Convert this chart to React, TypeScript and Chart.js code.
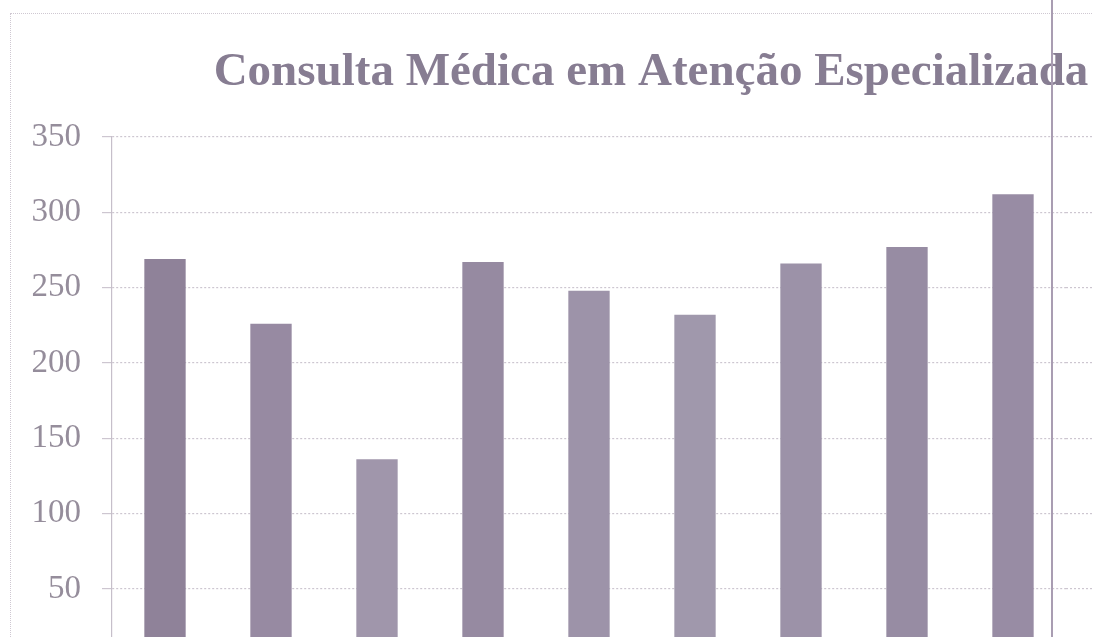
import React, { useEffect, useRef } from "react";
import { Chart, registerables } from "chart.js";

Chart.register(...registerables);

const TITLE = "Consulta Médica em Atenção Especializada";
const CATEGORIES = ["1", "2", "3", "4", "5", "6", "7", "8", "9"];
const VALUES = [269, 226, 136, 267, 248, 232, 266, 277, 312];
const Y_MIN = 0;
const Y_MAX = 350;
const Y_STEP = 50;

const BAR_COLORS = ["#8f8299", "#978aa2", "#a096ab", "#968aa1", "#9d93a9", "#a098ac", "#9c92a8", "#978ca3", "#988ca4"];

const GRID_W = 1.2;

const scanPlugin = {
  id: "scanDecor",
  beforeDatasetsDraw(chart: any) {
    // continue the dotted grid lines to the right edge of the page
    const ctx = chart.ctx;
    const y = chart.scales.y;
    const half = GRID_W / 2;
    ctx.save();
    ctx.strokeStyle = "#cdc6d0";
    ctx.lineWidth = GRID_W;
    ctx.setLineDash([2, 2]);
    for (const t of y.ticks) {
      const py = Math.round(y.getPixelForValue(t.value) - half) + half;
      ctx.beginPath();
      ctx.moveTo(chart.chartArea.right, py);
      ctx.lineTo(chart.width, py);
      ctx.stroke();
    }
    ctx.restore();
  },
  afterDraw(chart: any) {
    const ctx = chart.ctx;
    ctx.save();
    ctx.font = 'bold 47px "Liberation Serif", "Times New Roman", serif';
    ctx.fillStyle = "#877d92";
    ctx.textAlign = "center";
    ctx.textBaseline = "alphabetic";
    ctx.fillText(TITLE, 651, 85);
    ctx.restore();
  },
};

export default function App() {
  const ref = useRef<HTMLCanvasElement | null>(null);

  useEffect(() => {
    if (!ref.current) return;
    const chart = new Chart(ref.current, {
      type: "bar",
      data: {
        labels: CATEGORIES,
        datasets: [
          {
            data: VALUES,
            backgroundColor: BAR_COLORS,
            borderWidth: 0,
            categoryPercentage: 1,
            barPercentage: 0.39,
          },
        ],
      },
      options: {
        animation: false,
        responsive: false,
        maintainAspectRatio: false,
        layout: { padding: { left: 0, right: 27, top: 137, bottom: 15 } },
        plugins: {
          legend: { display: false },
          title: { display: false },
          tooltip: { enabled: false },
        },
        scales: {
          x: { display: false, offset: true },
          y: {
            min: Y_MIN,
            max: Y_MAX,
            afterFit: (s: any) => {
              s.width = 112;
            },
            ticks: {
              stepSize: Y_STEP,
              padding: 21,
              color: "#958d9b",
              font: { family: '"Liberation Serif", "Times New Roman", serif', size: 33 },
            },
            grid: {
              color: "#cdc6d0",
              tickLength: 10,
              drawTicks: true,
              tickColor: "#cdc6d0",
              lineWidth: GRID_W,
            },
            border: { display: true, color: "#c6bfca", dash: [2, 2], width: 1.2 },
          },
        },
      },
      plugins: [scanPlugin],
    });
    return () => chart.destroy();
  }, []);

  return (
    <div style={{ position: "fixed", inset: 0, overflow: "hidden", background: "#fff" }}>
      <div
        style={{
          position: "absolute",
          left: 10,
          top: 13,
          width: 1200,
          height: 800,
          border: "1px dotted #cfc8d2",
          pointerEvents: "none",
        }}
      />
      <canvas ref={ref} width={1093} height={705} style={{ position: "absolute", left: 0, top: 0 }} />
      <div
        style={{
          position: "absolute",
          left: 1051,
          top: 0,
          width: 2,
          height: 720,
          background: "#a99db2",
        }}
      />
    </div>
  );
}
